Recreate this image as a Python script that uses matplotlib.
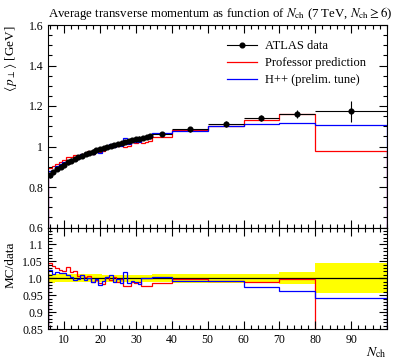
import matplotlib
matplotlib.use("Agg")
import matplotlib.pyplot as plt
from matplotlib.lines import Line2D
from matplotlib.ticker import MultipleLocator, FixedLocator
import numpy as np

plt.rcParams['font.family'] = ['Liberation Serif', 'DejaVu Serif']
plt.rcParams['mathtext.fontset'] = 'stix'

# bin edges in N_ch
nch_edges = [5.5, 6.5, 7.5, 8.5, 9.5, 10.5, 11.5, 12.5, 13.5, 14.5, 15.5, 16.5,
             17.5, 18.5, 19.5, 20.5, 21.5, 22.5, 23.5, 24.5, 25.5, 26.5, 27.5,
             28.5, 29.5, 30.5, 31.5, 32.5, 33.5, 34.5, 40, 50, 60, 70, 80, 100]

# ATLAS data <pT> [GeV]
data_val = [0.857, 0.874, 0.888, 0.900, 0.911, 0.921, 0.930, 0.939, 0.947,
            0.955, 0.962, 0.969, 0.975, 0.981, 0.987, 0.993, 0.998, 1.003,
            1.008, 1.013, 1.018, 1.022, 1.026, 1.031, 1.035, 1.039, 1.043,
            1.046, 1.050, 1.062, 1.084, 1.110, 1.142, 1.161, 1.174]
data_err = [0.011] * 29 + [0.012, 0.014, 0.014, 0.015, 0.020, 0.052]

# MC / data ratios
prof_ratio = [1.045, 1.035, 1.030, 1.025, 1.022, 1.032, 1.018, 1.020, 1.008,
              1.010, 1.004, 1.008, 0.988, 0.996, 0.986, 0.984, 1.005, 0.996,
              1.004, 0.990, 0.998, 0.978, 0.978, 0.990, 0.985, 0.990, 0.976,
              0.976, 0.976, 0.985, 0.997, 0.993, 0.990, 0.998, 0.832]
hpp_ratio = [1.025, 1.012, 1.018, 1.015, 1.015, 1.010, 1.005, 0.995, 0.998,
             1.010, 0.995, 1.002, 0.990, 0.998, 0.980, 0.992, 1.005, 1.010,
             0.990, 0.998, 0.985, 1.018, 0.985, 0.992, 0.988, 0.982, 1.000,
             1.000, 1.000, 1.005, 0.991, 0.992, 0.973, 0.962, 0.941]

edges = np.array(nch_edges)
centers = 0.5 * (edges[1:] + edges[:-1])
halfw = 0.5 * (edges[1:] - edges[:-1])
dval = np.array(data_val)
derr = np.array(data_err)
prof = np.array(prof_ratio) * dval
hpp = np.array(hpp_ratio) * dval

fig = plt.figure(figsize=(3.99, 3.60), dpi=100)
W, H = 399, 360
left, right = 48 / W, 387 / W
ax = fig.add_axes([left, 1 - 227.5 / H, right - left, (227.5 - 25) / H])
rax = fig.add_axes([left, 1 - 329 / H, right - left, (329 - 227.5) / H], sharex=ax)

# main panel
ax.stairs(prof, edges, color='red', lw=0.9)
ax.stairs(hpp, edges, color='blue', lw=0.9)
ax.errorbar(centers, dval, xerr=halfw, yerr=derr, fmt='o', color='black',
            ms=3.4, lw=0.8, capsize=0)
ax.set_xlim(5.5, 100)
ax.set_ylim(0.6, 1.6)
ax.yaxis.set_major_locator(FixedLocator([0.6, 0.8, 1.0, 1.2, 1.4, 1.6]))
ax.set_yticklabels(['0.6', '0.8', '1', '1.2', '1.4', '1.6'])
ax.yaxis.set_minor_locator(MultipleLocator(0.05))
ax.xaxis.set_major_locator(FixedLocator([10, 20, 30, 40, 50, 60, 70, 80, 90]))
ax.xaxis.set_minor_locator(MultipleLocator(2))
ax.tick_params(labelbottom=False)

handles = [
    Line2D([], [], color='black', marker='o', ms=3.4, lw=0.8),
    Line2D([], [], color='red', lw=0.9),
    Line2D([], [], color='blue', lw=0.9),
]
ax.legend(handles, ['ATLAS data', 'Professor prediction', 'H++ (prelim. tune)'],
          loc='upper left', bbox_to_anchor=(0.51, 0.955), frameon=False,
          fontsize=9, handlelength=2.4, handletextpad=0.6, labelspacing=0.4,
          borderpad=0)

ax.text(-0.11, 1.0, r'$\langle\, p_\perp \rangle$ [GeV]', transform=ax.transAxes,
        rotation=90, ha='center', va='top', fontsize=9.5)

# ratio panel
rel = derr / dval
rax.stairs(1 + rel, edges, baseline=1 - rel, fill=True, color='yellow', lw=0)
rax.stairs(np.ones(len(dval)), edges, color='black', lw=0.9)
rax.stairs(prof_ratio, edges, color='red', lw=0.9)
rax.stairs(hpp_ratio, edges, color='blue', lw=0.9)
rax.set_ylim(0.85, 1.15)
rax.yaxis.set_major_locator(FixedLocator([0.85, 0.9, 0.95, 1.0, 1.05, 1.1]))
rax.set_yticklabels(['0.85', '0.9', '0.95', '1.0', '1.05', '1.1'])
rax.yaxis.set_minor_locator(MultipleLocator(0.01))
rax.text(-0.11, 0.86, 'MC/data', transform=rax.transAxes, rotation=90,
         ha='center', va='top', fontsize=9.5)
rax.text(1.0, -0.16, r'$N_{\mathrm{ch}}$', transform=rax.transAxes,
         ha='right', va='top', fontsize=10)

for a in (ax, rax):
    a.tick_params(which='both', direction='in', top=True, right=True,
                  labelsize=8.5, width=0.8)
    a.tick_params(which='major', length=6)
    a.tick_params(which='minor', length=3)
    for s in a.spines.values():
        s.set_linewidth(0.8)

fig.text(48 / W, 1 - 13 / H,
         r'Average transverse momentum as function of $N_{\mathrm{ch}}$ '
         r'(7 TeV, $N_{\mathrm{ch}} \geq 6$)', ha='left', va='center', fontsize=9.3)

fig.savefig('out.png', dpi=100)
